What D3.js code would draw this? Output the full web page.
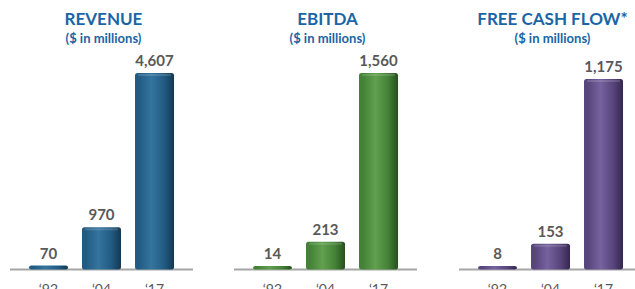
<!DOCTYPE html>
<html>
<head>
<meta charset="utf-8">
<script src="https://cdn.jsdelivr.net/npm/d3@7"></script>
<style>
html,body{margin:0;padding:0;background:#fff;}
svg{display:block;}
</style>
</head>
<body>
<svg id="chart" width="635" height="289"></svg>
<script>
const categories = ["‘92", "‘04", "‘17"];
const revenue = [70, 970, 4607];
const ebitda = [14, 213, 1560];
const freeCashFlow = [8, 153, 1175];
const titles = ["REVENUE", "EBITDA", "FREE CASH FLOW*"];
const subtitle = "($ in millions)";

const panels = [
  {title: titles[0], values: revenue, x0: 10, top: 73,
   colors: {edge: "#153750", base: "#215b83", light: "#35749e"}},
  {title: titles[1], values: ebitda, x0: 234, top: 73,
   colors: {edge: "#284f1f", base: "#438136", light: "#62a04f"}},
  {title: titles[2], values: freeCashFlow, x0: 459, top: 79,
   colors: {edge: "#33274d", base: "#58457c", light: "#76629e"}}
];

const svg = d3.select("#chart");
const defs = svg.append("defs");
const baseY = 268.5;
const axisW = 183;
const fmt = d3.format(",");

panels.forEach((p, i) => {
  const g = defs.append("linearGradient").attr("id", "grad" + i)
    .attr("x1", "0").attr("x2", "1").attr("y1", "0").attr("y2", "0");
  g.append("stop").attr("offset", "0%").attr("stop-color", p.colors.base);
  g.append("stop").attr("offset", "10%").attr("stop-color", p.colors.base);
  g.append("stop").attr("offset", "42%").attr("stop-color", p.colors.light);
  g.append("stop").attr("offset", "75%").attr("stop-color", p.colors.base);
  g.append("stop").attr("offset", "100%").attr("stop-color", p.colors.edge);

  const grp = svg.append("g");
  const x = d3.scaleBand().domain(categories).range([p.x0, p.x0 + axisW])
    .paddingInner(0.264).paddingOuter(0.358);
  const y = d3.scaleLinear().domain([0, d3.max(p.values)]).range([baseY, p.top]);
  const cx = p.x0 + axisW / 2;

  grp.append("text").attr("x", cx + 2).attr("y", 25)
    .attr("text-anchor", "middle")
    .style("font-family", "Lato, 'Open Sans', sans-serif")
    .style("font-weight", "700").style("font-size", "17px")
    .style("fill", "#1a65a5").text(p.title);
  grp.append("text").attr("x", cx + 2).attr("y", 43)
    .attr("text-anchor", "middle")
    .style("font-family", "Lato, 'Open Sans', sans-serif")
    .style("font-weight", "700").style("font-size", "13px")
    .style("fill", "#1a65a5").text(subtitle);

  // axis line
  grp.append("line").attr("x1", p.x0).attr("x2", p.x0 + axisW)
    .attr("y1", baseY + 1).attr("y2", baseY + 1)
    .attr("stroke", "#a6a6a6").attr("stroke-width", 2);

  const data = categories.map((c, k) => ({c, v: p.values[k]}));
  const bars = grp.selectAll("g.bar").data(data).join("g").attr("class", "bar");
  bars.append("rect")
    .attr("x", d => x(d.c))
    .attr("y", d => Math.min(y(d.v), baseY - 2.5))
    .attr("width", x.bandwidth())
    .attr("height", d => baseY - Math.min(y(d.v), baseY - 2.5) + 1)
    .attr("rx", 2.5)
    .attr("fill", `url(#grad${i})`);
  bars.filter(d => baseY - y(d.v) > 8).append("rect")
    .attr("x", d => x(d.c) + 3)
    .attr("y", d => y(d.v) + 1)
    .attr("width", x.bandwidth() - 6)
    .attr("height", 2)
    .attr("fill", "#ffffff").attr("opacity", 0.15);

  bars.append("text")
    .attr("x", d => x(d.c) + x.bandwidth() / 2)
    .attr("y", d => Math.min(y(d.v), baseY - 2.5) - 7)
    .attr("text-anchor", "middle")
    .style("font-family", "Lato, 'Open Sans', sans-serif")
    .style("font-weight", "700").style("font-size", "15px")
    .style("fill", "#595959")
    .text(d => fmt(d.v));

  bars.append("text")
    .attr("x", d => x(d.c) + x.bandwidth() / 2)
    .attr("y", 294)
    .attr("text-anchor", "middle")
    .style("font-family", "Lato, 'Open Sans', sans-serif")
    .style("font-size", "14px")
    .style("fill", "#595959")
    .text(d => d.c);
});
</script>
</body>
</html>
